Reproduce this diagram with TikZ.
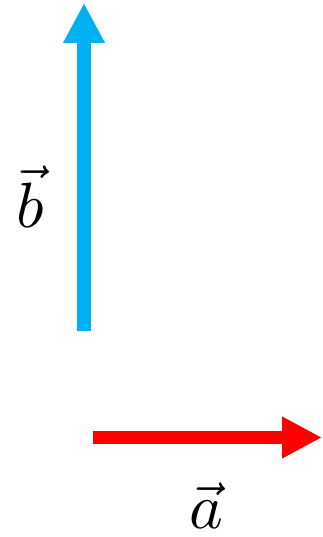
\documentclass[tikz,border=0pt]{standalone}
\usepackage{amsmath}
\usetikzlibrary{arrows.meta}
\definecolor{vecblue}{RGB}{0,176,240}
\definecolor{vecred}{RGB}{255,0,0}
\tikzset{
  vecar/.style = {-{Triangle[length=40pt,width=39pt]}},
  veclbl/.style = {anchor=base, inner sep=0pt}
}
\newcommand{\biglbl}[1]{\scalebox{6.4}{$#1$}}

\begin{document}
\begin{tikzpicture}[x=1pt, y=1pt]
\useasboundingbox (0,0) rectangle (323,537);
% ---------------- vector b ----------------
\coordinate (b0) at (84,206);
\coordinate (b1) at (84,534);
\draw[vecar, vecblue, line width=14pt] (b0) -- (b1);
\node[veclbl] (blbl) at (30,309) {\biglbl{\vec{b}}};

% ---------------- vector a ----------------
\coordinate (a0) at (93,99.5);
\coordinate (a1) at (322,99.5);
\draw[vecar, vecred, line width=13pt] (a0) -- (a1);
\node[veclbl] (albl) at (206,9) {\biglbl{\vec{a}}};
\end{tikzpicture}
\end{document}
